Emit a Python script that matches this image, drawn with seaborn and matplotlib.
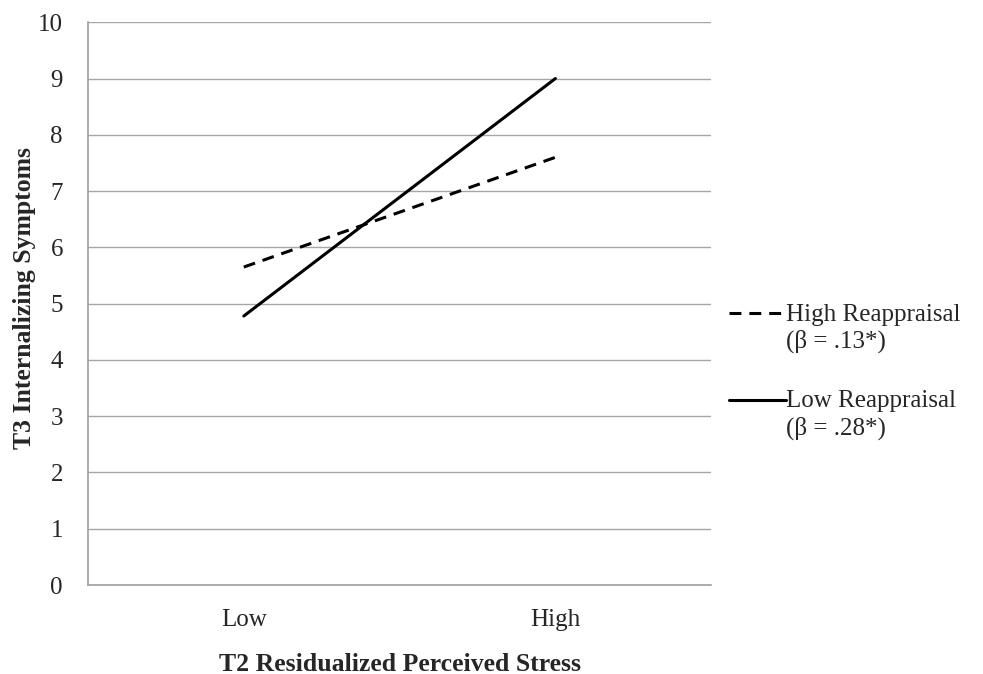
import pandas as pd
import numpy as np
import matplotlib.pyplot as plt
import seaborn as sb
from matplotlib.lines import Line2D
from matplotlib.legend_handler import HandlerLine2D

# data
stress = ['Low', 'High']
high_reappraisal = [5.65, 7.6]
low_reappraisal = [4.78, 9.0]
groups = ['High Reappraisal\n(β = .13*)', 'Low Reappraisal\n(β = .28*)']
y_ticks = list(range(0, 11))

df = pd.DataFrame({
    'stress': stress * 2,
    'symptoms': high_reappraisal + low_reappraisal,
    'group': [groups[0]] * 2 + [groups[1]] * 2,
})

sb.set_style('white')
plt.rcParams['font.family'] = ['Liberation Serif', 'DejaVu Serif']

fs = 18
lw = 2.2
dash = (3.9, 2.6)


class FirstLineHandler(HandlerLine2D):
    # put the legend line next to the first text row, not the middle
    def create_artists(self, legend, orig_handle, xdescent, ydescent,
                       width, height, fontsize, trans):
        arts = super().create_artists(legend, orig_handle, xdescent, ydescent,
                                      width, height, fontsize, trans)
        for a in arts:
            a.set_ydata(np.asarray(a.get_ydata()) + 0.6 * fontsize)
        return arts


fig = plt.figure(figsize=(9.83, 6.74), dpi=100)
ax = fig.add_axes([0.0895, 0.132, 0.634, 0.835])

sb.lineplot(data=df, x='stress', y='symptoms', style='group',
            dashes={groups[0]: dash, groups[1]: ''},
            color='black', linewidth=lw, legend=False, ax=ax, sort=False)

ax.set_xlim(-0.5, 1.5)
ax.set_ylim(0, 10)
ax.set_yticks(y_ticks)
ax.set_xticks([0, 1])
ax.set_xticklabels(stress)
ax.set_xticks([-0.5, 0.5, 1.5], minor=True)
ax.tick_params(axis='x', which='major', length=0, labelsize=fs, pad=17)
ax.tick_params(axis='x', which='minor', length=6, color='#a0a0a0', width=1)
ax.tick_params(axis='y', length=6, color='#a0a0a0', width=1, labelsize=fs, pad=12)
ax.yaxis.grid(True, color='#a6a6a6', linewidth=1)
ax.xaxis.grid(False)
for s in ['top', 'right']:
    ax.spines[s].set_visible(False)
for s in ['left', 'bottom']:
    ax.spines[s].set_color('#a0a0a0')
    ax.spines[s].set_linewidth(1.2)

ax.set_xlabel('T2 Residualized Perceived Stress', fontsize=18.5, fontweight='bold', labelpad=16)
ax.set_ylabel('T3 Internalizing Symptoms', fontsize=18.5, fontweight='bold')
ax.yaxis.set_label_coords(-0.084, 0.51)

handles = [Line2D([], [], color='black', lw=lw, dashes=dash),
           Line2D([], [], color='black', lw=lw)]
fig.legend(handles, groups, loc='upper left', bbox_to_anchor=(0.742, 0.549),
           frameon=False, fontsize=fs, handlelength=2.25, handletextpad=0.0,
           labelspacing=1.5, borderaxespad=0, borderpad=0,
           handler_map={Line2D: FirstLineHandler()})

plt.savefig('out.png', dpi=100)
